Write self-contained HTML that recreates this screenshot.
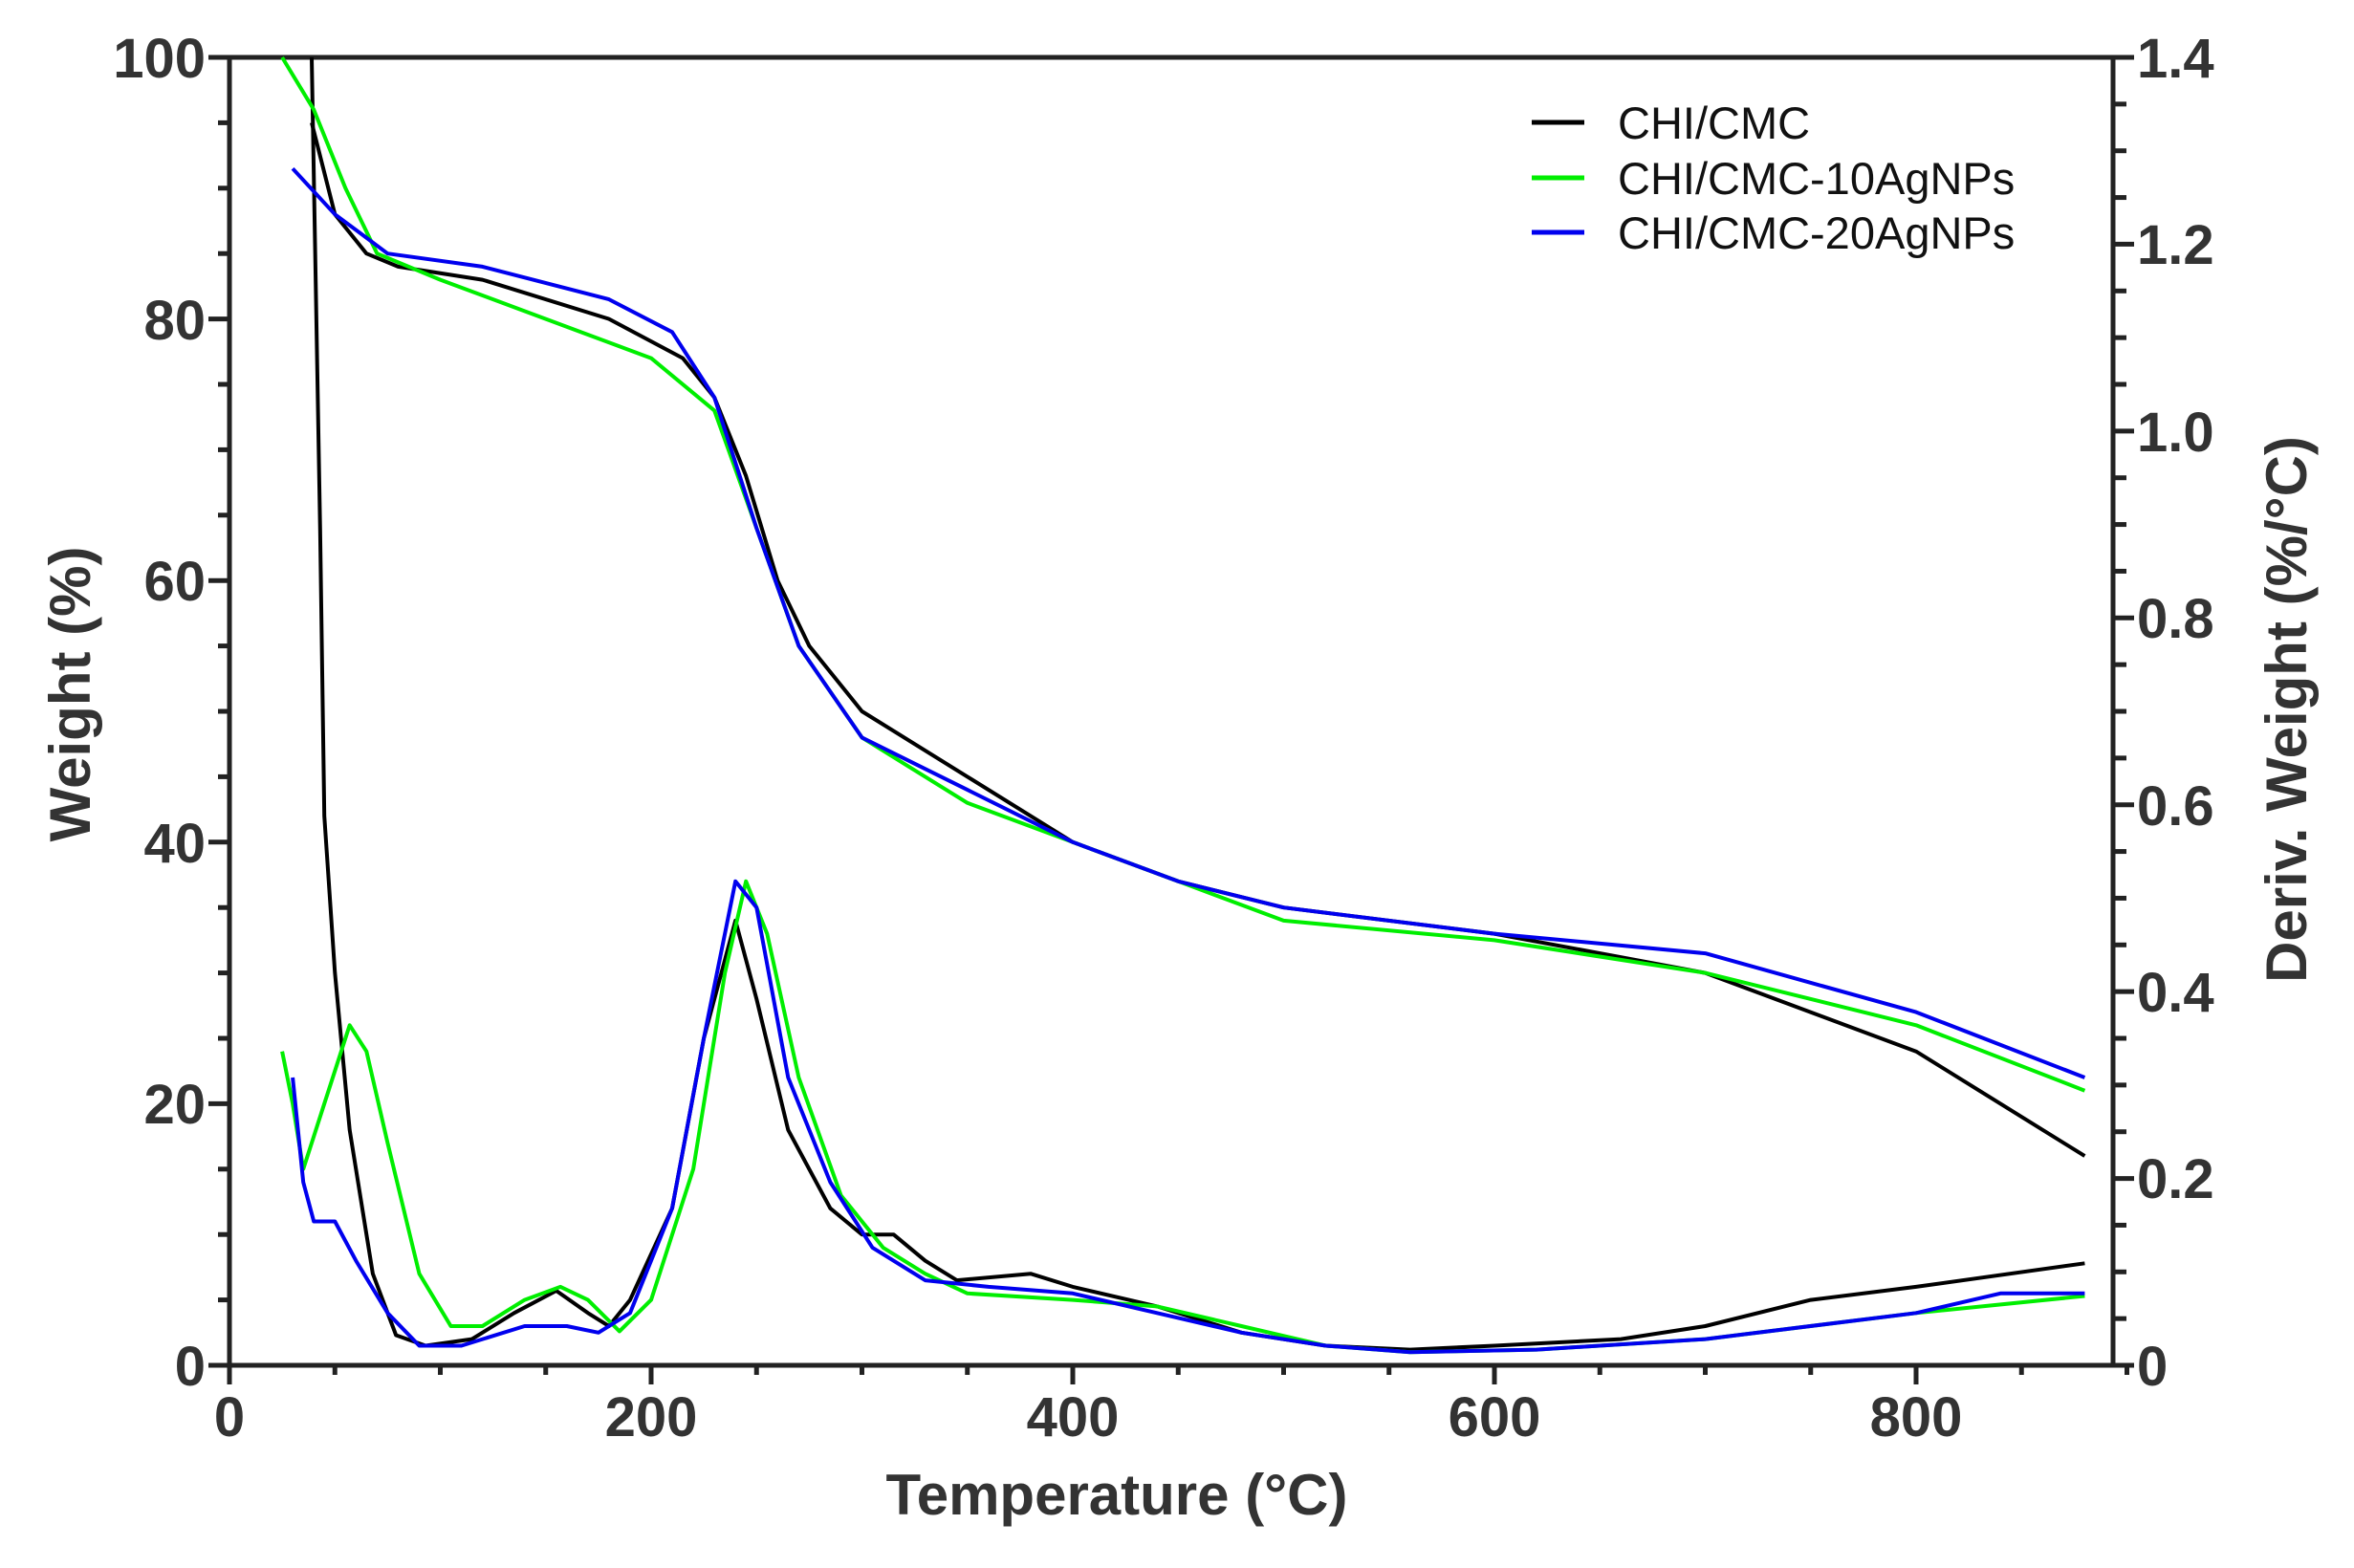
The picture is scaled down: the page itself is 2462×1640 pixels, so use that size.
<!DOCTYPE html>
<html><head><meta charset="utf-8"><style>
html,body{margin:0;padding:0;background:#fff;}
svg{display:block;}
.t{font-family:"Liberation Sans",Arial,sans-serif;font-weight:bold;fill:#333;}
.l{font-family:"Liberation Sans",Arial,sans-serif;fill:#111;font-size:47px;}
</style></head><body>
<svg id="s" width="2462" height="1640" viewBox="0 0 2462 1640" xmlns="http://www.w3.org/2000/svg">
<g id="axes" stroke="#222" stroke-width="5" fill="none"></g>
<g id="data" fill="none" stroke-width="4" stroke-linejoin="round"></g>
<g class="t" font-size="58">
<text x="215" y="81" text-anchor="end">100</text>
<text x="215" y="355" text-anchor="end">80</text>
<text x="215" y="628" text-anchor="end">60</text>
<text x="215" y="902" text-anchor="end">40</text>
<text x="215" y="1175" text-anchor="end">20</text>
<text x="215" y="1449" text-anchor="end">0</text>
<text x="240" y="1502" text-anchor="middle">0</text>
<text x="681" y="1502" text-anchor="middle">200</text>
<text x="1122" y="1502" text-anchor="middle">400</text>
<text x="1563" y="1502" text-anchor="middle">600</text>
<text x="2004" y="1502" text-anchor="middle">800</text>
<text x="2235" y="81">1.4</text>
<text x="2235" y="276">1.2</text>
<text x="2235" y="472">1.0</text>
<text x="2235" y="667">0.8</text>
<text x="2235" y="863">0.6</text>
<text x="2235" y="1058">0.4</text>
<text x="2235" y="1253">0.2</text>
<text x="2235" y="1449">0</text>
</g>
<text class="t" font-size="60" x="1168" y="1584" text-anchor="middle">Temperature (°C)</text>
<text class="t" font-size="60" transform="translate(94,726) rotate(-90)" text-anchor="middle">Weight (%)</text>
<text class="t" font-size="60" transform="translate(2412,742) rotate(-90)" text-anchor="middle">Deriv. Weight (%/°C)</text>
<g stroke-width="5">
<line x1="1602" y1="128" x2="1657" y2="128" stroke="#000"/>
<line x1="1602" y1="186" x2="1657" y2="186" stroke="#00ee00"/>
<line x1="1602" y1="243" x2="1657" y2="243" stroke="#0000ee"/>
</g>
<text class="l" x="1692" y="145">CHI/CMC</text>
<text class="l" x="1692" y="203">CHI/CMC-10AgNPs</text>
<text class="l" x="1692" y="260">CHI/CMC-20AgNPs</text>
</svg>
<script>
var L=240,R=2210,T=60,B=1428;
function X(t){return L+t*2.205;}
function Y(v){return B-v*13.68;}
var ax=document.getElementById('axes'),h='';
h+='<line x1="'+L+'" y1="'+T+'" x2="'+R+'" y2="'+T+'"/>';
h+='<line x1="'+L+'" y1="'+T+'" x2="'+L+'" y2="'+B+'"/>';
h+='<line x1="'+R+'" y1="'+T+'" x2="'+R+'" y2="'+B+'"/>';
h+='<line x1="'+(L-20)+'" y1="'+B+'" x2="'+R+'" y2="'+B+'"/>';
for(var v=0;v<=100;v+=5){var y=Y(v),len=v%20==0?22:12;h+='<line x1="'+(L-len)+'" y1="'+y+'" x2="'+L+'" y2="'+y+'"/>';}
for(var t=0;t<=900;t+=50){var x=X(t),len=t%200==0?20:10;h+='<line x1="'+x+'" y1="'+B+'" x2="'+x+'" y2="'+(B+len)+'"/>';}
for(var i=0;i<=28;i++){var y=B-i*(B-T)/28,len=i%4==0?22:14;h+='<line x1="'+R+'" y1="'+y+'" x2="'+(R+len)+'" y2="'+y+'"/>';}
ax.innerHTML=h;
function P(d,c){var s='';for(var i=0;i<d.length;i+=2)s+=X(d[i]).toFixed(1)+','+Y(d[i+1]).toFixed(1)+' ';return '<polyline points="'+s+'" stroke="'+c+'"/>';}
var bk='#000',gr='#00ee00',bl='#0000ee';
var bT=[39,95,50,88,65,85,80,84,120,83,180,80,215,77,230,74,245,68,260,60,275,55,300,50,350,45,400,40,450,37,500,35,600,33,700,30,800,24,880,16];
var gT=[25,100,40,96,55,90,70,85,100,83,150,80,200,77,230,73,250,64,270,55,300,48,350,43,400,40,450,37,500,34,600,32.5,700,30,800,26,880,21];
var uT=[30,91.5,50,88,75,85,120,84,180,81.5,210,79,230,74,250,64,270,55,300,48,350,44,400,40,450,37,500,35,600,33,700,31.5,800,27,880,22];
var bD=[39,100,43,64,45,42,50,30,57,18,68,7,79,2.3,93,1.5,115,2,135,4,155,5.7,170,4,180,3,190,5,210,12,225,25,240,34,250,28,265,18,285,12,300,10,315,10,330,8,345,6.5,380,7,400,6,440,4.5,480,2.5,520,1.5,560,1.2,600,1.5,660,2,700,3,750,5,800,6,880,7.8];
var gD=[25,24,30,20,35,15,45,20,57,26,65,24,75,17,90,7,105,3,120,3,140,5,157,6,170,5,185,2.6,200,5,220,15,235,30,245,37,255,33,270,22,290,13,310,9,330,7,350,5.5,400,5,440,4.5,480,3,520,1.5,560,1,620,1.2,700,2,800,4,880,5.3];
var uD=[30,22,35,14,40,11,50,11,60,8,75,4,90,1.5,110,1.5,140,3,160,3,175,2.5,190,4,210,12,225,25,240,37,250,35,265,22,285,14,305,9,330,6.5,360,6,400,5.5,440,4,480,2.5,520,1.5,560,1,620,1.2,700,2,800,4,840,5.5,880,5.5];
document.getElementById('data').innerHTML=P(bT,bk)+P(bD,bk)+P(gT,gr)+P(gD,gr)+P(uT,bl)+P(uD,bl);
</script>
</body></html>
